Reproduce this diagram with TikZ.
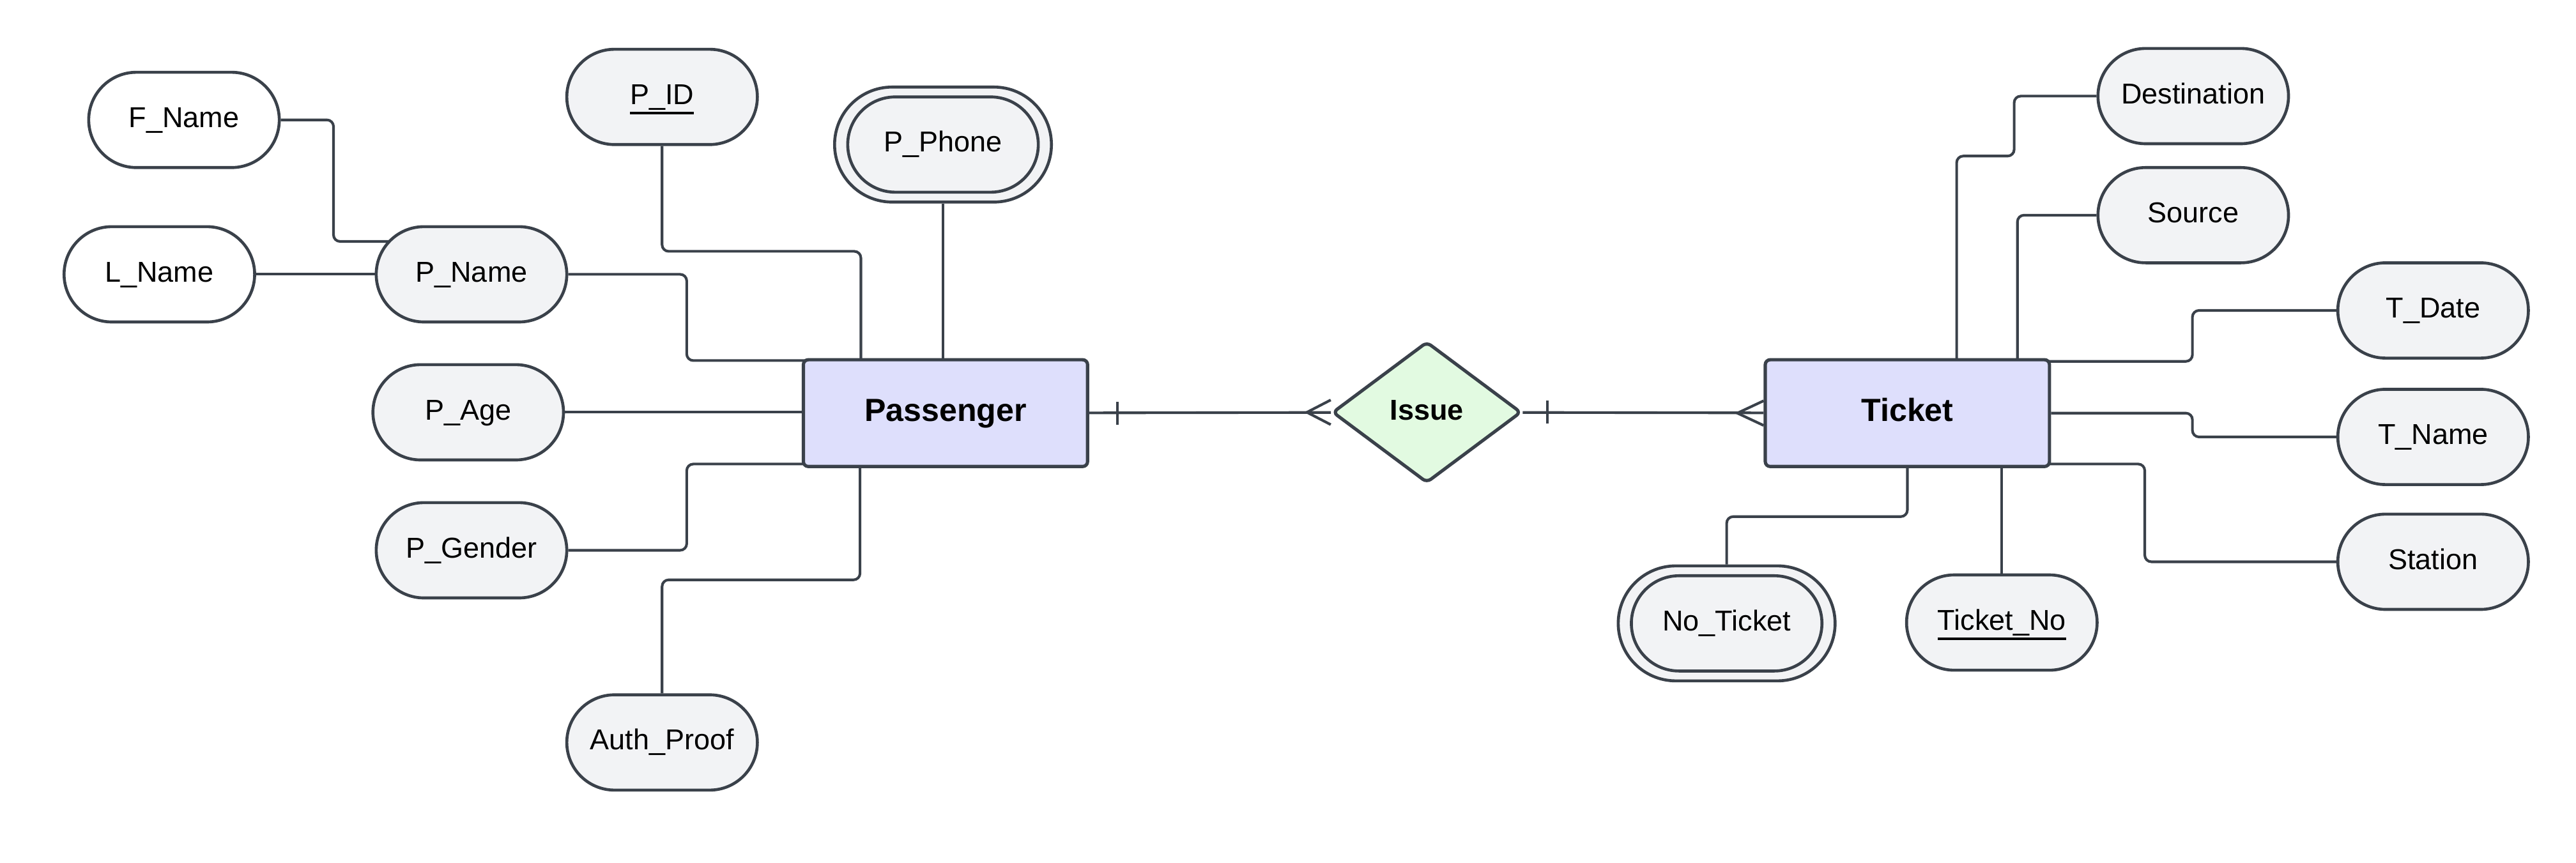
\documentclass[tikz,border=0pt]{standalone}
\usepackage{fontspec}
\setmainfont{Liberation Sans}
\usetikzlibrary{shapes.geometric,backgrounds}
\definecolor{ln}{RGB}{58,65,74}
\definecolor{attrfill}{RGB}{242,243,245}
\definecolor{entfill}{RGB}{222,223,252}
\definecolor{relfill}{RGB}{226,250,225}
\newcommand\keyul[1]{\leavevmode\vtop{\hbox{#1}\kern1.2pt\hrule height 1.3pt}}
\begin{document}
\begin{tikzpicture}[x=1pt,y=-1pt,
  attr/.style={draw=ln, fill=attrfill, line width=1.8pt, rectangle, rounded corners=29pt,
    minimum width=116pt, minimum height=58pt, inner sep=0pt, text height=13pt, text depth=4pt,
    font=\fontsize{17.5}{21}\selectfont},
  plainattr/.style={attr, fill=white},
  outerattr/.style={draw=ln, fill=attrfill, line width=1.8pt, rectangle, rounded corners=35pt,
    minimum width=132pt, minimum height=70pt, inner sep=0pt},
  entity/.style={draw=ln, fill=entfill, line width=2pt, rectangle, rounded corners=3pt,
    minimum width=173pt, minimum height=65pt, inner sep=0pt, text height=14.5pt, text depth=4.5pt,
    font=\fontsize{19.5}{23}\selectfont\bfseries},
  rel/.style={draw=ln, fill=relfill, line width=2pt, diamond, rounded corners=3pt,
    minimum width=115pt, minimum height=86pt, inner sep=0pt, text height=13pt, text depth=4pt,
    font=\fontsize{17.5}{21}\selectfont\bfseries},
  conn/.style={draw=ln, line width=1.6pt, rounded corners=4pt},
  tip/.style={draw=ln, line width=1.6pt}
]
\useasboundingbox (0,0) rectangle (1568,525);

% entities and relationship
\node[entity] (passenger) at (575.5,251.5) {Passenger};
\node[entity] (ticket) at (1161,251.5) {Ticket};
\node[rel] (issue) at (868.5,251) {Issue};

% passenger attributes
\node[plainattr] (fname) at (112,73) {F\_Name};
\node[plainattr] (lname) at (97,167) {L\_Name};
\node[attr] (pname) at (287,167) {P\_Name};
\node[attr] (page) at (285,251) {P\_Age};
\node[attr] (pgender) at (287,335) {P\_Gender};
\node[attr] (auth) at (403,452) {Auth\_Proof};
\node[attr] (pid) at (403,59) {\keyul{P\_ID}};
\node[outerattr] (pphoneo) at (574,88) {};
\node[attr] (pphone) at (574,88) {P\_Phone};

% ticket attributes
\node[attr] (dest) at (1335,58.5) {Destination};
\node[attr] (source) at (1335,131) {Source};
\node[attr] (tdate) at (1481,189) {T\_Date};
\node[attr] (tname) at (1481,266) {T\_Name};
\node[attr] (station) at (1481,342) {Station};
\node[outerattr] (noticketo) at (1051,379.5) {};
\node[attr] (noticket) at (1051,379.5) {No\_Ticket};
\node[attr] (ticketno) at (1218.5,379) {\keyul{Ticket\_No}};

\begin{pgfonlayer}{background}
  % passenger side
  \draw[conn] (fname) -| (203,147) -- (pname.center |- 0,147);
  \draw[conn] (lname) -- (pname);
  \draw[conn] (pname) -| (418,219.5) -- (passenger.center |- 0,219.5);
  \draw[conn] (pid) |- (524,153) -- (524,153 |- passenger.center);
  \draw[conn] (pphoneo) -- (pphoneo |- passenger.center);
  \draw[conn] (page) -- (page -| passenger.center);
  \draw[conn] (pgender) -| (418,282.5) -- (passenger.center |- 0,282.5);
  \draw[conn] (auth) |- (523.5,353) -- (523.5,353 |- passenger.center);
  % relationship
  \draw[conn] (passenger) -- (issue);
  \draw[conn] (issue) -- (ticket);
  % ticket side
  \draw[conn] (dest) -| (1226,95) -| (1191,95 |- ticket.center);
  \draw[conn] (source) -| (1228,131 |- ticket.center);
  \draw[conn] (tdate) -| (1334.5,220) -- (ticket.center |- 0,220);
  \draw[conn] (ticket) -| (1334.5,266) -- (tname);
  \draw[conn] (ticket.center |- 0,282.5) -| (1305.5,342) -- (station);
  \draw[conn] (ticket) |- (1051,314.5) -- (noticketo);
  \draw[conn] (1218.5,251 |- ticket.center) -- (ticketno);
\end{pgfonlayer}

% cardinality marks
\draw[tip] ([shift={(17pt,-7pt)}]passenger.east) -- ([shift={(17pt,7pt)}]passenger.east);
\draw[tip] ([shift={(0pt,7.5pt)}]issue.west) -- ([shift={(-14.5pt,0pt)}]issue.west) -- ([shift={(0pt,-7.5pt)}]issue.west);
\draw[tip] ([shift={(15pt,-7pt)}]issue.east) -- ([shift={(15pt,7pt)}]issue.east);
\draw[tip] ([shift={(0pt,7.5pt)}]ticket.west) -- ([shift={(-16pt,0pt)}]ticket.west) -- ([shift={(0pt,-7.5pt)}]ticket.west);
\end{tikzpicture}
\end{document}
